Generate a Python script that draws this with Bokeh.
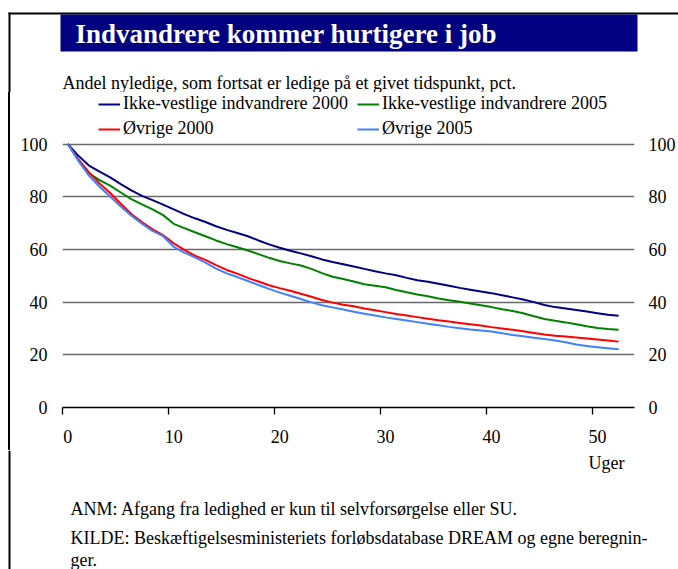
from bokeh.plotting import figure
from bokeh.layouts import column, row
from bokeh.models import (Range1d, LinearAxis, FixedTicker, Legend, LegendItem,
                          Label, Grid, Spacer)
from bokeh.embed import file_html
from bokeh.resources import INLINE

# ---------------- data ----------------
weeks = list(range(53))
ikke_vestlige_2000 = [100, 95.5, 91.8, 89.5, 87.3, 84.8, 82.4, 80.3, 78.7, 77.0,
                      75.2, 73.4, 71.8, 70.4, 68.8, 67.4, 66.2, 65.0, 63.4, 61.9,
                      60.6, 59.5, 58.5, 57.4, 56.2, 55.2, 54.4, 53.5, 52.6, 51.7,
                      50.9, 50.2, 49.2, 48.3, 47.7, 47.0, 46.2, 45.4, 44.7, 44.0,
                      43.4, 42.6, 41.8, 41.0, 40.0, 38.9, 38.1, 37.6, 37.0, 36.4,
                      35.8, 35.2, 34.8]
ikke_vestlige_2005 = [100, 94.0, 88.9, 86.3, 84.2, 81.6, 79.1, 77.1, 75.2, 73.0,
                      69.7, 68.1, 66.5, 65.0, 63.4, 62.0, 60.8, 59.6, 58.2, 56.8,
                      55.6, 54.7, 53.9, 52.6, 51.0, 49.6, 48.8, 47.8, 46.8, 46.2,
                      45.6, 44.6, 43.7, 42.9, 42.2, 41.4, 40.7, 40.1, 39.5, 38.8,
                      38.1, 37.3, 36.6, 35.8, 34.6, 33.6, 32.9, 32.3, 31.6, 30.8,
                      30.2, 29.8, 29.5]
ovrige_2000 = [100, 94.2, 89.2, 85.0, 81.4, 77.3, 73.4, 70.4, 67.6, 65.4,
               62.3, 59.8, 57.6, 56.0, 54.0, 52.2, 50.8, 49.2, 47.8, 46.4,
               45.3, 44.3, 43.2, 42.0, 40.8, 39.8, 39.0, 38.4, 37.6, 36.9,
               36.2, 35.5, 34.9, 34.3, 33.7, 33.1, 32.6, 32.1, 31.6, 31.1,
               30.5, 30.0, 29.5, 28.9, 28.3, 27.7, 27.2, 26.9, 26.6, 26.2,
               25.8, 25.4, 25.0]
ovrige_2005 = [100, 93.6, 88.0, 83.8, 80.1, 76.3, 72.8, 69.8, 67.0, 65.0,
               61.0, 58.8, 57.0, 55.0, 52.7, 50.9, 49.5, 48.0, 46.5, 45.0,
               43.6, 42.4, 41.2, 39.9, 38.8, 38.0, 37.2, 36.3, 35.6, 34.9,
               34.2, 33.6, 33.0, 32.4, 31.8, 31.2, 30.6, 30.1, 29.6, 29.2,
               28.8, 28.2, 27.5, 27.0, 26.5, 26.0, 25.4, 24.8, 23.9, 23.3,
               22.9, 22.5, 22.1]
series_names = ["Ikke-vestlige indvandrere 2000", "Ikke-vestlige indvandrere 2005",
                "Øvrige 2000", "Øvrige 2005"]
series_colors = ["#000080", "#008000", "#FF0000", "#4080FF"]
x_ticks = [0, 10, 20, 30, 40, 50]
y_ticks = [0, 20, 40, 60, 80, 100]

title_text = "Indvandrere kommer hurtigere i job"
subtitle_text = "Andel nyledige, som fortsat er ledige på et givet tidspunkt, pct."
x_unit_text = "Uger"
note_lines = ["ANM: Afgang fra ledighed er kun til selvforsørgelse eller SU.",
              "KILDE: Beskæftigelsesministeriets forløbsdatabase DREAM og egne beregnin-",
              "ger."]

# ---------------- layout constants ----------------
W, H = 678, 569
HEAD_H, FOOT_H = 92, 119
MAIN_H = H - HEAD_H - FOOT_H            # 358
STRIP_W = 10
MAIN_W = W - STRIP_W                    # 668
FONT = "Liberation Serif"
FS = "18px"
NAVY = "#000080"


def blank_figure(width, height, xr, yr):
    f = figure(width=width, height=height, output_backend="svg", toolbar_location=None,
               x_range=xr, y_range=yr, x_axis_location=None, y_axis_location=None,
               min_border=0, min_border_left=0, min_border_right=0,
               min_border_top=0, min_border_bottom=0)
    f.outline_line_color = None
    f.background_fill_color = "white"
    f.border_fill_color = "white"
    for g in f.grid:
        g.visible = False
    return f


# ---------------- header (title band, subtitle, frame line) ----------------
head = blank_figure(W, HEAD_H, Range1d(0, W), Range1d(HEAD_H, 0))
head.quad(left=[8, 8, 60], right=[W, 10, 637], top=[12, 12, 14], bottom=[14, HEAD_H, 51],
          fill_color=["black", "black", NAVY], line_color=None)
head.add_layout(Label(x=75, y=33, text=title_text, text_font=FONT, text_font_style="bold",
                      text_font_size="27px", text_color="white", text_baseline="middle",
                      text_align="left"))
head.add_layout(Label(x=62, y=82, text=subtitle_text, text_font=FONT, text_font_size=FS,
                      text_color="black", text_baseline="middle", text_align="left"))

# ---------------- left frame strip (white gap + 2px black rule) ----------------
strip_gap = Spacer(width=STRIP_W - 2, height=MAIN_H, styles={"background-color": "white"})
strip_rule = Spacer(width=2, height=MAIN_H, styles={"background-color": "black"})

# ---------------- main chart ----------------
# frame spans the whole height above the x axis, so the legend can sit inside it
FL, FR = 52, 626                         # frame left/right inside the main canvas
FB = 315                                 # frame bottom (value 0) inside the canvas
PX_PER_UNIT = 2.635                      # vertical pixels per percentage point
Y_TOP = FB / PX_PER_UNIT                 # value at the top edge of the canvas
p = figure(width=MAIN_W, height=MAIN_H, output_backend="svg", toolbar_location=None,
           x_range=Range1d(-0.5, 53.5), y_range=Range1d(0, Y_TOP),
           x_axis_location=None, y_axis_location=None,
           min_border_left=FL, min_border_right=MAIN_W - FR,
           min_border_top=0, min_border_bottom=MAIN_H - FB)
p.outline_line_color = None
p.background_fill_color = "white"
p.border_fill_color = "white"
for g in p.grid:
    g.visible = False

p.add_layout(Grid(dimension=1, ticker=FixedTicker(ticks=y_ticks[1:]),
                  grid_line_color="#6a6a6a", grid_line_width=1.4), "center")

for loc, standoff in [("left", 15), ("right", 14)]:
    ax = LinearAxis(ticker=FixedTicker(ticks=y_ticks), axis_line_color=None,
                    major_tick_line_color=None, minor_tick_line_color=None,
                    major_tick_out=0, major_tick_in=0, major_label_standoff=standoff,
                    major_label_text_font=FONT, major_label_text_font_size=FS,
                    major_label_text_color="black")
    p.add_layout(ax, loc)

bounds = [t - 0.5 for t in x_ticks]
tick_axis = LinearAxis(ticker=FixedTicker(ticks=bounds), axis_line_color="black",
                       axis_line_width=1.3, major_tick_line_color="black",
                       major_tick_line_width=1.3, minor_tick_line_color=None,
                       major_tick_out=7, major_tick_in=0, major_label_standoff=0,
                       major_label_text_font_size="0px",
                       major_label_overrides={b: "" for b in bounds})
p.add_layout(tick_axis, "below")
label_axis = LinearAxis(ticker=FixedTicker(ticks=x_ticks), axis_line_color=None,
                        major_tick_line_color=None, minor_tick_line_color=None,
                        major_tick_out=0, major_tick_in=0, major_label_standoff=15,
                        major_label_text_font=FONT, major_label_text_font_size=FS,
                        major_label_text_color="black",
                        major_label_overrides={t: str(t) for t in x_ticks})
p.add_layout(label_axis, "below")

renderers = []
for ys, c in zip([ikke_vestlige_2000, ikke_vestlige_2005, ovrige_2000, ovrige_2005],
                 series_colors):
    renderers.append(p.line(weeks, ys, line_color=c, line_width=2))

# legend columns are filled top-to-bottom: col 1 = 2000 series, col 2 = 2005 series
legend_order = [0, 2, 1, 3]
legend = Legend(items=[LegendItem(label=series_names[i], renderers=[renderers[i]])
                       for i in legend_order],
                location=(36, 268), ncols=2, padding=0, margin=0, spacing=4,
                glyph_width=22, glyph_height=20, label_height=20, label_width=230,
                label_standoff=3, label_text_font=FONT, label_text_font_size=FS,
                label_text_color="black", label_text_baseline="middle",
                border_line_color=None, background_fill_alpha=0)
p.add_layout(legend, "center")

# ---------------- footer ----------------
foot = blank_figure(W, FOOT_H, Range1d(0, W), Range1d(FOOT_H, 0))
foot.quad(left=[8], right=[10], top=[0], bottom=[FOOT_H], fill_color="black", line_color=None)
foot.add_layout(Label(x=624, y=12, text=x_unit_text, text_font=FONT, text_font_size=FS,
                      text_color="black", text_baseline="middle", text_align="right"))
for txt, yy in zip(note_lines, [58, 87, 109]):
    foot.add_layout(Label(x=70, y=yy, text=txt, text_font=FONT, text_font_size=FS,
                          text_color="black", text_baseline="middle", text_align="left"))

layout = column(head, row(strip_gap, strip_rule, p, spacing=0), foot, spacing=0)
open("out.html", "w").write(file_html(layout, INLINE))
